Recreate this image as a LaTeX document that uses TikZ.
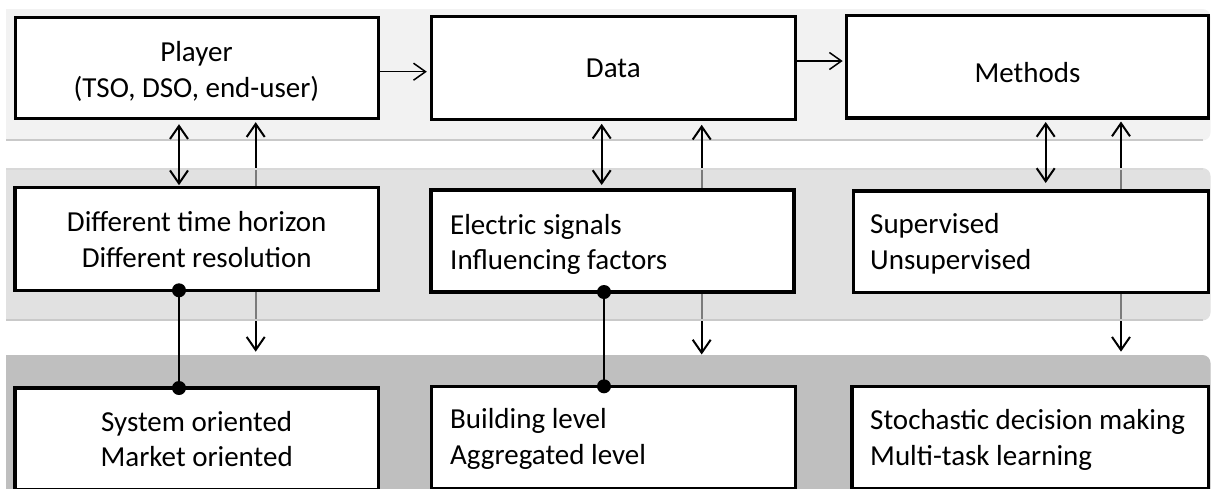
\documentclass[tikz,border=0pt]{standalone}
\usepackage{fontspec}
\setmainfont{Carlito}
\usetikzlibrary{arrows.meta}
\definecolor{bandtop}{HTML}{F2F2F2}
\definecolor{bandmid}{HTML}{CDCDCD}
\definecolor{bandlow}{HTML}{BFBFBF}
\definecolor{bandedge}{HTML}{C9C9C9}
\definecolor{bandrim}{HTML}{D8D8D8}
\pgfdeclarelayer{bands}
\pgfdeclarelayer{under}
\pgfdeclarelayer{veil}
\pgfsetlayers{bands,under,veil,main}
\begin{document}
\begin{tikzpicture}[x=1pt,y=-1pt,
  box/.style={draw, line width=3.5pt, fill=white, outer sep=0pt, inner sep=0pt, anchor=north west},
  lbl/.style={font=\fontsize{29}{35.5}\selectfont, inner sep=0pt, anchor=base},
  lblc/.style={lbl, align=center},
  lbll/.style={lbl, align=left, anchor=base west},
  barb/.tip={Straight Barb[length=13pt,width=18pt]},
  link/.style={line width=2pt, -barb},
  both/.style={line width=2pt, barb-barb},
  flow/.style={line width=1.5pt, -{Straight Barb[length=12pt,width=17pt]}},
  tie/.style={line width=2.5pt},
  dot/.style={fill=black}]
\useasboundingbox (0,0) rectangle (1211,488);
\clip (0,0) rectangle (1211,488);

% column positions of the vertical connectors
\coordinate (xa) at (179,0);
\coordinate (ua) at (255.7,0);
\coordinate (xb) at (601.7,0);
\coordinate (ub) at (701.7,0);
\coordinate (tb) at (604,0);
\coordinate (xc) at (1045.7,0);
\coordinate (uc) at (1121,0);
\coordinate (ya) at (0,71.7);
\coordinate (yb) at (0,61);
\coordinate (da) at (255.7,351.7);
\coordinate (db) at (701.7,354.5);
\coordinate (dc) at (1121,351.7);

% boxes
\node[box, minimum width=363.4pt, minimum height=101.2pt] (player) at (15.3,17.5) {};
\node[box, minimum width=364pt, minimum height=102.8pt] (data) at (431.3,16.5) {};
\node[box, minimum width=362.4pt, minimum height=102.7pt] (methods) at (846.3,15.3) {};
\node[box, minimum width=363.3pt, minimum height=102.6pt] (time) at (15,187.7) {};
\node[box, minimum width=363.2pt, minimum height=102pt] (signals) at (431,190) {};
\node[box, minimum width=355.2pt, minimum height=101.5pt] (superv) at (853.3,191) {};
\node[box, minimum width=363.7pt, minimum height=102pt] (system) at (15,388) {};
\node[box, minimum width=363.6pt, minimum height=102pt] (building) at (431.7,386.3) {};
\node[box, minimum width=356.7pt, minimum height=102pt] (stoch) at (852,386.3) {};

% background bands, square on the left and rounded on the right
\begin{pgfonlayer}{bands}
  \begin{scope}
    \clip (6,0) rectangle (1211,488);
    \fill[bandtop, rounded corners=8pt] (-20,9) rectangle (1210.5,140.5);
    \draw[bandedge, line width=2pt] (6,139.5) -- (1203,139.5);
    \fill[bandlow, rounded corners=8pt] (-20,355) rectangle (1210.5,520);
  \end{scope}
\end{pgfonlayer}
\begin{pgfonlayer}{veil}
  \begin{scope}
    \clip (6,0) rectangle (1211,488);
    \fill[bandmid, fill opacity=0.6, rounded corners=8pt] (-20,168) rectangle (1210.5,320.5);
    \draw[bandrim, line width=1.5pt] (6,169) -- (1203,169);
    \draw[bandedge, line width=2pt] (6,319.5) -- (1203,319.5);
  \end{scope}
\end{pgfonlayer}

% one-way links that pass under the middle band
\begin{pgfonlayer}{under}
  \draw[link, shorten >=3.5pt] (time.north -| ua) -- (player.south -| ua);
  \draw[link, shorten >=5.5pt] (signals.north -| ub) -- (data.south -| ub);
  \draw[link, shorten >=3.5pt] (superv.north -| uc) -- (methods.south -| uc);
  \draw[link] (time.south -| ua) -- (da);
  \draw[link] (signals.south -| ub) -- (db);
  \draw[link] (superv.south -| uc) -- (dc);
\end{pgfonlayer}

% two-way links
\draw[both, shorten <=5.5pt, shorten >=2.5pt] (player.south -| xa) -- (time.north -| xa);
\draw[both, shorten <=4.5pt, shorten >=5pt] (data.south -| xb) -- (signals.north -| xb);
\draw[both, shorten <=4pt, shorten >=8pt] (methods.south -| xc) -- (superv.north -| xc);

% flow along the top row
\draw[flow, shorten >=4.5pt] (player.east |- ya) -- (data.west |- ya);
\draw[flow, shorten >=3.6pt] (data.east |- yb) -- (methods.west |- yb);

% ties with round ends
\draw[tie] (time.south -| xa) -- (system.north -| xa);
\fill[dot] (time.south -| xa) circle[radius=7pt] (system.north -| xa) circle[radius=7pt];
\draw[tie] (signals.south -| tb) -- (building.north -| tb);
\fill[dot] (signals.south -| tb) circle[radius=7pt] (building.north -| tb) circle[radius=7pt];

% labels (two-line labels sit on the baseline of their second line)
\node[lblc] (player-t) at (196.5,97) {Player\\(TSO, DSO, end-user)};
\node[lblc] (data-t) at (613.3,77) {Data};
\node[lblc] (methods-t) at (1027.5,82) {Methods};
\node[lblc] (time-t) at (196.7,267) {Different time horizon\\Different resolution};
\node[lbll] (signals-t) at (450,269.5) {Electric signals\\Influencing factors};
\node[lbll] (superv-t) at (870,269.3) {Supervised\\Unsupervised};
\node[lblc] (system-t) at (196.7,466.7) {System oriented\\Market oriented};
\node[lbll] (building-t) at (450,464.3) {Building level\\Aggregated level};
\node[lbll] (stoch-t) at (870,465) {Stochastic decision making\\Multi-task learning};
\end{tikzpicture}
\end{document}
